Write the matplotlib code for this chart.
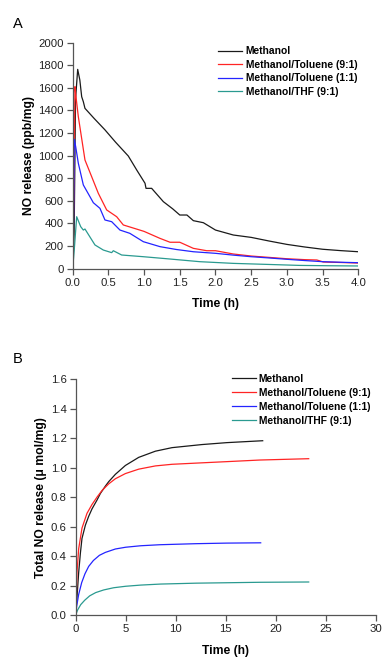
import matplotlib
matplotlib.use("Agg")
import matplotlib.pyplot as plt
from matplotlib.ticker import MultipleLocator, FormatStrFormatter

plt.rcParams["font.family"] = ["Liberation Sans", "DejaVu Sans"]

labels = ["Methanol", "Methanol/Toluene (9:1)", "Methanol/Toluene (1:1)", "Methanol/THF (9:1)"]
colors = ["#1a1a1a", "#ff2424", "#2424ff", "#2a9a90"]

# panel A - NO release (ppb/mg) vs time (h)
a_meoh_t = [0.0, 0.02, 0.04, 0.07, 0.10, 0.126, 0.149, 0.172, 0.3, 0.45, 0.6, 0.779, 0.9, 1.013, 1.027,
            1.106, 1.27, 1.4, 1.50, 1.60, 1.69, 1.83, 2.0, 2.25, 2.5, 2.75, 3.0, 3.25, 3.5, 3.75, 4.0]
a_meoh_y = [0, 300, 1500, 1764, 1670, 1522, 1478, 1419, 1330, 1230, 1120, 997, 870, 756, 711,
            711, 593, 530, 475, 475, 425, 407, 342, 298, 277, 245, 215, 192, 172, 160, 150]

a_tol91_t = [0.0, 0.015, 0.032, 0.046, 0.079, 0.172, 0.266, 0.359, 0.476, 0.616, 0.709, 1.0, 1.22,
             1.363, 1.50, 1.69, 1.877, 2.0, 2.25, 2.5, 2.75, 3.0, 3.25, 3.42, 3.51, 3.75, 4.0]
a_tol91_y = [0, 600, 1611, 1522, 1345, 962, 814, 667, 520, 460, 387, 330, 269,
             234, 234, 180, 159, 159, 130, 112, 100, 88, 80, 77, 59, 55, 50]

a_tol11_t = [0.0, 0.012, 0.023, 0.042, 0.079, 0.149, 0.242, 0.289, 0.382, 0.452, 0.546, 0.662, 0.80,
             0.989, 1.223, 1.45, 1.69, 2.0, 2.25, 2.5, 2.75, 3.0, 3.25, 3.5, 3.75, 4.0]
a_tol11_y = [0, 400, 1145, 1080, 933, 741, 637, 584, 534, 431, 416, 342, 313,
             239, 195, 170, 150, 136, 120, 106, 95, 83, 72, 62, 57, 53]

a_thf_t = [0.0, 0.02, 0.056, 0.112, 0.149, 0.172, 0.312, 0.429, 0.546, 0.569, 0.686, 0.99, 1.32,
           1.78, 2.25, 2.72, 3.18, 3.6, 4.0]
a_thf_y = [0, 150, 460, 372, 342, 351, 210, 165, 142, 159, 121, 106, 88,
           62, 47, 38, 29, 26, 24]

# panel B - total NO release (umol/mg) vs time (h)
b_meoh_t = [0.0, 0.13, 0.3, 0.47, 0.63, 0.97, 1.3, 1.63, 2.13, 2.47, 2.97, 3.3, 3.97, 4.97, 6.3,
            7.97, 9.63, 12.63, 15.1, 18.7]
b_meoh_y = [0.0, 0.12, 0.29, 0.42, 0.52, 0.61, 0.67, 0.72, 0.78, 0.825, 0.875, 0.905, 0.955, 1.015, 1.07,
            1.112, 1.136, 1.157, 1.17, 1.183]

b_tol91_t = [0.0, 0.07, 0.13, 0.3, 0.63, 1.13, 1.63, 2.13, 2.63, 3.3, 3.97, 4.97, 6.3, 7.97, 9.63,
             12.63, 15.1, 18.43, 23.3]
b_tol91_y = [0.0, 0.14, 0.29, 0.45, 0.59, 0.69, 0.75, 0.80, 0.845, 0.89, 0.925, 0.96, 0.99, 1.012, 1.023,
             1.033, 1.041, 1.052, 1.061]

b_tol11_t = [0.0, 0.1, 0.3, 0.6, 0.93, 1.3, 1.77, 2.37, 2.97, 3.97, 5.0, 6.5, 8.43, 12.0, 15.1, 18.5]
b_tol11_y = [0.0, 0.06, 0.14, 0.22, 0.28, 0.33, 0.37, 0.405, 0.425, 0.448, 0.46, 0.47, 0.477, 0.484, 0.488, 0.49]

b_thf_t = [0.0, 0.2, 0.5, 0.9, 1.4, 2.0, 2.8, 3.8, 5.0, 6.5, 8.5, 12.0, 18.43, 23.3]
b_thf_y = [0.0, 0.035, 0.07, 0.10, 0.13, 0.152, 0.17, 0.185, 0.195, 0.203, 0.21, 0.216, 0.222, 0.224]


def style_axes(ax):
    for s in ["top", "right"]:
        ax.spines[s].set_visible(False)
    for s in ["left", "bottom"]:
        ax.spines[s].set_color("#555555")
        ax.spines[s].set_linewidth(0.9)
    ax.tick_params(direction="out", length=4, width=0.9, color="#555555",
                   labelsize=8.2, labelcolor="#222222", pad=2.5)


fig = plt.figure(figsize=(3.85, 6.6), dpi=100)

axA = fig.add_axes([0.1888, 0.5929, 0.7418, 0.3424])
seriesA = [(a_meoh_t, a_meoh_y), (a_tol91_t, a_tol91_y), (a_tol11_t, a_tol11_y), (a_thf_t, a_thf_y)]
for (t, y), c, lab in zip(seriesA, colors, labels):
    axA.plot(t, y, color=c, lw=0.9, label=lab)
axA.set_xlim(0, 4)
axA.set_ylim(0, 2000)
axA.xaxis.set_major_locator(MultipleLocator(0.5))
axA.xaxis.set_major_formatter(FormatStrFormatter("%.1f"))
axA.yaxis.set_major_locator(MultipleLocator(200))
style_axes(axA)
axA.set_xlabel("Time (h)", fontsize=8.7, fontweight="bold", labelpad=7.5)
axA.set_ylabel("NO release (ppb/mg)", fontsize=8.7, fontweight="bold", labelpad=2)
axA.legend(loc="upper left", bbox_to_anchor=(217.5 / 385, 1 - 46.5 / 660), bbox_transform=fig.transFigure,
           frameon=False, prop={"weight": "bold", "size": 7.4}, handlelength=2.35,
           handletextpad=0.4, labelspacing=0.33, borderpad=0, borderaxespad=0)

axB = fig.add_axes([0.1966, 0.0682, 0.7792, 0.3571])
seriesB = [(b_meoh_t, b_meoh_y), (b_tol91_t, b_tol91_y), (b_tol11_t, b_tol11_y), (b_thf_t, b_thf_y)]
for (t, y), c, lab in zip(seriesB, colors, labels):
    axB.plot(t, y, color=c, lw=0.9, label=lab)
axB.set_xlim(0, 30)
axB.set_ylim(0, 1.6)
axB.xaxis.set_major_locator(MultipleLocator(5))
axB.yaxis.set_major_locator(MultipleLocator(0.2))
axB.yaxis.set_major_formatter(FormatStrFormatter("%.1f"))
style_axes(axB)
axB.set_xlabel("Time (h)", fontsize=8.7, fontweight="bold", labelpad=8)
axB.set_ylabel("Total NO release (\u03bc mol/mg)", fontsize=8.7, fontweight="bold", labelpad=3)
axB.legend(loc="upper left", bbox_to_anchor=(231.5 / 385, 1 - 373.5 / 660), bbox_transform=fig.transFigure,
           frameon=False, prop={"weight": "bold", "size": 7.4}, handlelength=2.35,
           handletextpad=0.3, labelspacing=0.4, borderpad=0, borderaxespad=0)

fig.text(12.5 / 385, 1 - 28 / 660, "A", fontsize=10.5)
fig.text(13 / 385, 1 - 362.7 / 660, "B", fontsize=10.5)

fig.savefig("out.png", dpi=100)
